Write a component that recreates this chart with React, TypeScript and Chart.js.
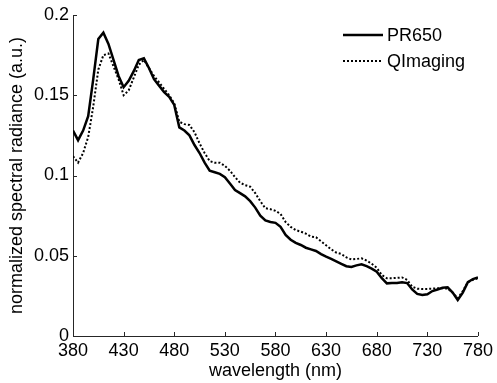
import React, { useEffect, useRef } from "react";
import { Chart, registerables } from "chart.js";

Chart.register(...registerables);

const wavelengths = [
  380, 385, 390, 395, 400, 405, 410, 415, 420, 425, 430, 435, 440, 445, 450, 455, 460, 465, 470, 475,
  480, 485, 490, 495, 500, 505, 510, 515, 520, 525, 530, 535, 540, 545, 550, 555, 560, 565, 570, 575,
  580, 585, 590, 595, 600, 605, 610, 615, 620, 625, 630, 635, 640, 645, 650, 655, 660, 665, 670, 675,
  680, 685, 690, 695, 700, 705, 710, 715, 720, 725, 730, 735, 740, 745, 750, 755, 760, 765, 770, 775, 780,
];

const pr650 = [
  0.128, 0.122, 0.128, 0.137, 0.16, 0.185, 0.189, 0.182, 0.172, 0.162, 0.155, 0.159, 0.165, 0.172, 0.173, 0.167, 0.16, 0.156, 0.152, 0.149,
  0.144, 0.13, 0.128, 0.125, 0.119, 0.114, 0.108, 0.103, 0.102, 0.101, 0.099, 0.095, 0.091, 0.089, 0.087, 0.084, 0.08, 0.075, 0.072, 0.071,
  0.0705, 0.068, 0.063, 0.06, 0.058, 0.0567, 0.055, 0.054, 0.053, 0.051, 0.0494, 0.048, 0.0465, 0.045, 0.0435, 0.043, 0.044, 0.0447, 0.0435, 0.042,
  0.04, 0.036, 0.0328, 0.033, 0.033, 0.0335, 0.033, 0.029, 0.0262, 0.0255, 0.026, 0.028, 0.029, 0.03, 0.0303, 0.027, 0.0224, 0.027, 0.0335, 0.0355, 0.0365,
];

const qimaging = [
  0.112, 0.108, 0.114, 0.124, 0.143, 0.166, 0.175, 0.176, 0.168, 0.16, 0.15, 0.153, 0.161, 0.169, 0.172, 0.167, 0.162, 0.158, 0.154, 0.15,
  0.145, 0.1335, 0.132, 0.1315, 0.127, 0.12, 0.114, 0.109, 0.108, 0.108, 0.106, 0.103, 0.099, 0.0955, 0.094, 0.093, 0.089, 0.084, 0.0796, 0.079,
  0.078, 0.076, 0.071, 0.068, 0.066, 0.065, 0.0638, 0.062, 0.0615, 0.059, 0.0565, 0.054, 0.052, 0.0511, 0.049, 0.0477, 0.048, 0.0484, 0.047, 0.045,
  0.0425, 0.038, 0.036, 0.036, 0.0362, 0.0365, 0.035, 0.0307, 0.0295, 0.0293, 0.0293, 0.0295, 0.0297, 0.0297, 0.0296, 0.027, 0.0235, 0.028, 0.0335, 0.035, 0.036,
];

const xTicks = [380, 430, 480, 530, 580, 630, 680, 730, 780];
const yTicks = [0, 0.05, 0.1, 0.15, 0.2];
const yTickLabels = ["0", "0.05", "0.1", "0.15", "0.2"];

const FONT = "'Liberation Sans', Arial, Helvetica, sans-serif";
const AXIS_COLOR = "#262626";

const innerTicksPlugin = {
  id: "innerTicks",
  afterDatasetsDraw(chart: any) {
    const { ctx, chartArea, scales } = chart;
    ctx.save();
    ctx.strokeStyle = AXIS_COLOR;
    ctx.lineWidth = 1;
    ctx.beginPath();
    for (const v of xTicks) {
      const px = Math.round(scales.x.getPixelForValue(v)) + 0.5;
      ctx.moveTo(px, chartArea.bottom);
      ctx.lineTo(px, chartArea.bottom - 4);
    }
    for (const v of yTicks) {
      const py = Math.round(scales.y.getPixelForValue(v)) + 0.5;
      ctx.moveTo(chartArea.left, py);
      ctx.lineTo(chartArea.left + 4, py);
    }
    ctx.stroke();
    ctx.restore();
  },
};

const legendPlugin = {
  id: "customLegend",
  afterDraw(chart: any) {
    const { ctx } = chart;
    const x0 = 343;
    const x1 = 383;
    const rows = [35, 61];
    ctx.save();
    chart.data.datasets.forEach((ds: any, i: number) => {
      const y = rows[i];
      ctx.beginPath();
      ctx.strokeStyle = "#000";
      ctx.lineWidth = ds.borderWidth;
      ctx.setLineDash(ds.borderDash || []);
      ctx.moveTo(x0, y);
      ctx.lineTo(x1, y);
      ctx.stroke();
      ctx.setLineDash([]);
      ctx.fillStyle = "#000";
      ctx.font = `18px ${FONT}`;
      ctx.textBaseline = "middle";
      ctx.textAlign = "left";
      ctx.fillText(ds.label, 387, y + 1);
    });
    ctx.restore();
  },
};

export default function App() {
  const canvasRef = useRef<HTMLCanvasElement | null>(null);

  useEffect(() => {
    const canvas = canvasRef.current;
    if (!canvas) return;
    const chart = new Chart(canvas, {
      type: "line",
      data: {
        datasets: [
          {
            label: "PR650",
            data: wavelengths.map((w, i) => ({ x: w, y: pr650[i] })),
            borderColor: "#000",
            borderWidth: 2.5,
            pointRadius: 0,
            tension: 0,
            fill: false,
          },
          {
            label: "QImaging",
            data: wavelengths.map((w, i) => ({ x: w, y: qimaging[i] })),
            borderColor: "#000",
            borderWidth: 2,
            borderDash: [2, 2],
            pointRadius: 0,
            tension: 0,
            fill: false,
          },
        ],
      },
      options: {
        responsive: false,
        animation: false,
        layout: { padding: { top: 15, right: 16, left: 0, bottom: 0 } },
        plugins: {
          legend: { display: false },
          tooltip: { enabled: false },
        },
        scales: {
          x: {
            type: "linear",
            min: 380,
            max: 780,
            afterBuildTicks: (scale: any) => {
              scale.ticks = xTicks.map((v) => ({ value: v }));
            },
            afterFit: (scale: any) => {
              scale.height = 47;
            },
            ticks: {
              color: "#000",
              font: { family: FONT, size: 18 },
              padding: 4,
              maxRotation: 0,
              autoSkip: false,
              callback: (v: any) => String(v),
            },
            grid: { display: true, drawOnChartArea: false, drawTicks: false },
            border: { display: true, color: AXIS_COLOR, width: 1 },
            title: {
              display: true,
              text: "wavelength (nm)",
              color: "#000",
              font: { family: FONT, size: 18 },
              padding: { top: 0, bottom: 1 },
            },
          },
          y: {
            type: "linear",
            min: 0,
            max: 0.2,
            afterBuildTicks: (scale: any) => {
              scale.ticks = yTicks.map((v) => ({ value: v }));
            },
            afterFit: (scale: any) => {
              scale.width = 73;
            },
            ticks: {
              color: "#000",
              font: { family: FONT, size: 18 },
              padding: 4,
              autoSkip: false,
              callback: (v: any) => {
                const idx = yTicks.findIndex((t) => Math.abs(t - v) < 1e-9);
                return idx >= 0 ? yTickLabels[idx] : "";
              },
            },
            grid: { display: true, drawOnChartArea: false, drawTicks: false },
            border: { display: true, color: AXIS_COLOR, width: 1 },
            title: {
              display: true,
              text: "normalized spectral radiance (a.u.)",
              color: "#000",
              font: { family: FONT, size: 18 },
              padding: { top: 6, bottom: 0 },
            },
          },
        },
      },
      plugins: [innerTicksPlugin, legendPlugin],
    } as any);
    return () => chart.destroy();
  }, []);

  return (
    <div style={{ position: "absolute", left: 0, top: 0, width: 497, height: 383, background: "#fff" }}>
      <canvas ref={canvasRef} width={497} height={383} style={{ display: "block", width: 497, height: 383 }} />
    </div>
  );
}
